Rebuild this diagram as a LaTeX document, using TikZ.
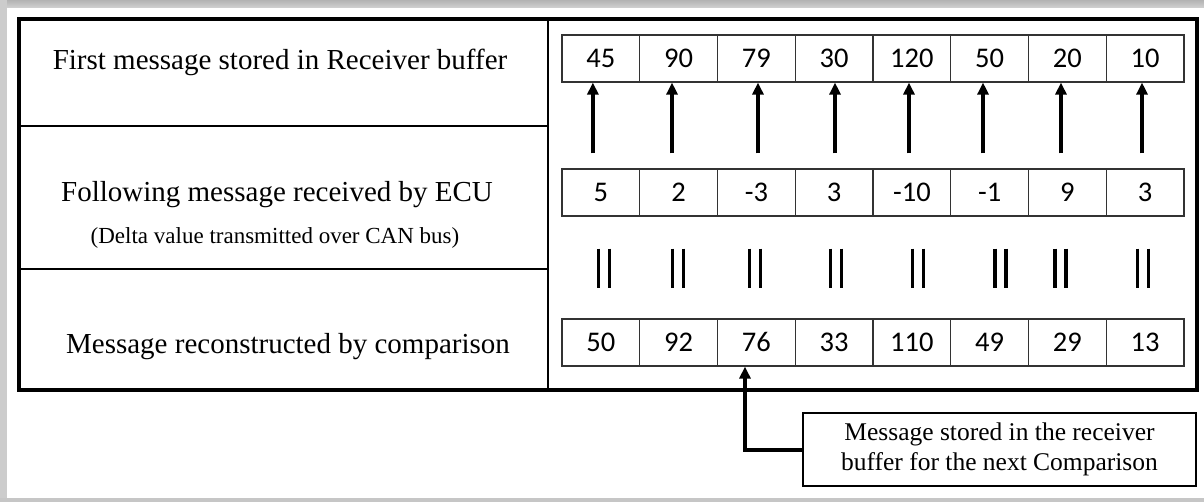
\documentclass[tikz,border=0pt]{standalone}
\usepackage{fontspec}
\setmainfont{Liberation Serif}
\newfontfamily\numfont{Carlito}
\usetikzlibrary{arrows.meta,calc}
\begin{document}
\begin{tikzpicture}[x=1pt,y=-1pt,
  cell/.style={draw=black!80, line width=1.2pt, minimum width=77.75pt, minimum height=47pt, inner sep=0pt, text height=18pt, text depth=0pt, font=\numfont\fontsize{28.5}{32}\selectfont},
  lbl/.style={anchor=base, inner sep=0pt, font=\fontsize{29}{34}\selectfont},
  sublbl/.style={anchor=base, inner sep=0pt, font=\fontsize{23}{27}\selectfont},
  uparr/.style={line width=4pt, -{Triangle[length=12pt,width=11pt]}},
  eqbar/.style={line width=3.6pt},
  callout/.style={draw, line width=1.8pt, minimum width=393pt, minimum height=73pt, inner sep=0pt, align=center, font=\fontsize{25.5}{30}\selectfont}
]
\useasboundingbox (0,0) rectangle (1204,502);
\fill[white] (0,0) rectangle (1204,502);
% grey frame
\shade[top color=gray!60, bottom color=gray!35] (0,0) rectangle (1204,8);
\fill[gray!40] (0,0) rectangle (7,502);
\fill[gray!45] (0,498) rectangle (1204,502);

% table frame
\draw[line width=3.5pt] (19,19) rectangle (1197,390);
\draw[line width=2pt] (548,19) -- (548,390);
\draw[line width=2pt] (19,126) -- (548,126);
\draw[line width=2pt] (19,269) -- (548,269);

% left labels
\node[lbl] (l1) at (280,70) {First message stored in Receiver buffer};
\node[lbl] (l2) at (277,202) {Following message received by ECU};
\node[sublbl] (l2b) at (275,244) {(Delta value transmitted over CAN bus)};
\node[lbl] (l3) at (288,353) {Message reconstructed by comparison};

% cells
\foreach \v [count=\i] in {45,90,79,30,120,50,20,10}
  \node[cell] (t\i) at ({562+77.75*(\i-0.5)},58.5) {\v};
\foreach \v [count=\i] in {5,2,-3,3,-10,-1,9,3}
  \node[cell] (d\i) at ({562+77.75*(\i-0.5)},192.5) {\v};
\foreach \v [count=\i] in {50,92,76,33,110,49,29,13}
  \node[cell] (m\i) at ({562+77.75*(\i-0.5)},342.5) {\v};

% arrows
\foreach \i/\dx in {1/-8,2/-6.6,3/1.6,4/0.9,5/-2.9,6/-6.6,7/-6.4,8/-3.1}
  \draw[uparr] ($(d\i.north)+(\dx,-15)$) -- ($(t\i.south)+(\dx,0)$);

% equality bars
\foreach \i/\dx in {1/3,2/-0.6,3/-1.4,4/2,5/6,6/11,7/-7,8/-2} {
  \draw[eqbar] ($(d\i.south)+(\dx-5.5,32)$) -- ($(d\i.south)+(\dx-5.5,71)$);
  \draw[eqbar] ($(d\i.south)+(\dx+5.5,32)$) -- ($(d\i.south)+(\dx+5.5,71)$);
}

% callout
\node[callout] (call) at (999.5,449.5) {Message stored in the receiver\\buffer for the next Comparison};
\coordinate (cx) at ($(m3.south)+(-11.4,0)$);
\draw[uparr] (call.west) -| (cx);
\end{tikzpicture}
\end{document}
